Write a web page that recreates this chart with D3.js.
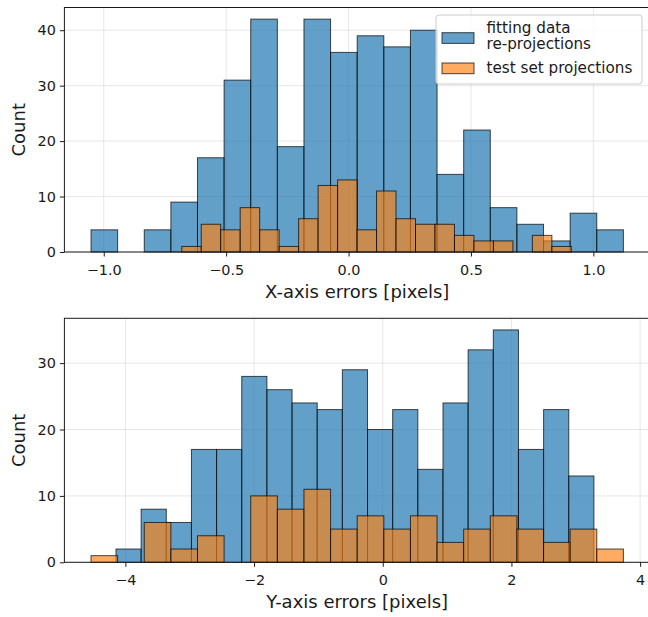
<!DOCTYPE html>
<html><head><meta charset="utf-8">
<script src="https://cdn.jsdelivr.net/npm/d3@7"></script>
<style>body{margin:0;background:#fff}svg{display:block}text{font-family:"DejaVu Sans",sans-serif;fill:#1a1a1a}</style>
</head><body>
<svg id="c" width="648" height="617"></svg>
<script>
// ---- data ----
// X-axis errors histogram (fitting data re-projections), 20 equal bins
const xFitRange = [-1.052, 1.1226];
const xFitCounts = [4, 0, 4, 9, 17, 31, 42, 19, 42, 36, 39, 37, 40, 14, 22, 8, 5, 2, 7, 4];
// X-axis errors histogram (test set projections), 20 equal bins
const xTestRange = [-0.6814, 0.910];
const xTestCounts = [1, 5, 4, 8, 4, 1, 6, 12, 13, 4, 11, 6, 5, 5, 3, 2, 2, 0, 3, 1];
// Y-axis errors histogram (fitting data), 19 equal bins
const yFitRange = [-4.146, 3.282];
const yFitCounts = [2, 8, 6, 17, 17, 28, 26, 24, 23, 29, 20, 23, 14, 24, 32, 35, 17, 23, 13];
// Y-axis errors histogram (test set), 20 equal bins
const yTestRange = [-4.534, 3.740];
const yTestCounts = [1, 0, 6, 2, 4, 0, 10, 8, 11, 5, 7, 5, 7, 3, 5, 7, 5, 3, 5, 2];

const xTicksTop = [-1.0, -0.5, 0.0, 0.5, 1.0];
const yTicksTop = [0, 10, 20, 30, 40];
const xTicksBottom = [-4, -2, 0, 2, 4];
const yTicksBottom = [0, 10, 20, 30];

const seriesNames = ["fitting data\nre-projections", "test set projections"];
const seriesColors = ["#1f77b4", "#ff7f0e"];

// ---- drawing ----
const svg = d3.select("#c");

function bins(range, counts) {
  const n = counts.length, w = (range[1] - range[0]) / n;
  return counts.map((c, i) => ({x0: range[0] + i * w, x1: range[0] + (i + 1) * w, c}));
}

function panel(opt) {
  const allMin = Math.min(opt.fitRange[0], opt.testRange[0]);
  const allMax = Math.max(opt.fitRange[1], opt.testRange[1]);
  const pad = (allMax - allMin) * 0.05;
  const yMax = Math.max(d3.max(opt.fitCounts), d3.max(opt.testCounts)) * 1.05;
  const x = d3.scaleLinear().domain([allMin - pad, allMax + pad]).range([opt.left, opt.right]);
  const y = d3.scaleLinear().domain([0, yMax]).range([opt.bottom, opt.top]);
  const g = svg.append("g");

  // grid
  g.append("g").selectAll("line").data(opt.xTicks).join("line")
    .attr("x1", d => x(d)).attr("x2", d => x(d)).attr("y1", opt.top).attr("y2", opt.bottom)
    .attr("stroke", "#b0b0b0").attr("stroke-opacity", 0.3).attr("stroke-width", 1);
  g.append("g").selectAll("line").data(opt.yTicks).join("line")
    .attr("y1", d => y(d)).attr("y2", d => y(d)).attr("x1", opt.left).attr("x2", opt.right)
    .attr("stroke", "#b0b0b0").attr("stroke-opacity", 0.3).attr("stroke-width", 1);

  // bars
  const series = [[opt.fitRange, opt.fitCounts, 0, 0.7], [opt.testRange, opt.testCounts, 1, 0.65]];
  series.forEach(([r, c, k, a]) => {
    g.append("g").selectAll("rect").data(bins(r, c).filter(d => d.c > 0)).join("rect")
      .attr("x", d => x(d.x0)).attr("width", d => x(d.x1) - x(d.x0))
      .attr("y", d => y(d.c)).attr("height", d => y(0) - y(d.c))
      .attr("fill", seriesColors[k]).attr("fill-opacity", a)
      .attr("stroke", "#000").attr("stroke-opacity", 0.7).attr("stroke-width", 1);
  });

  // axes
  const ax = g.append("g").attr("transform", `translate(0,${opt.bottom})`)
    .call(d3.axisBottom(x).tickValues(opt.xTicks).tickFormat(opt.xFmt).tickSize(4.5).tickPadding(4));
  const ay = g.append("g").attr("transform", `translate(${opt.left},0)`)
    .call(d3.axisLeft(y).tickValues(opt.yTicks).tickFormat(d3.format("d")).tickSize(4.5).tickPadding(4));
  [ax, ay].forEach(a => {
    a.select(".domain").remove();
    a.selectAll("text").attr("font-size", 14.4).attr("fill", "#1a1a1a").attr("font-family", '"DejaVu Sans",sans-serif');
    a.selectAll("line").attr("stroke", "#1a1a1a");
  });
  ax.selectAll("text").attr("dy", null).attr("y", 23).attr("dominant-baseline", null);
  // frame
  g.append("rect").attr("x", opt.left).attr("y", opt.top)
    .attr("width", opt.right - opt.left).attr("height", opt.bottom - opt.top)
    .attr("fill", "none").attr("stroke", "#1a1a1a").attr("stroke-width", 1);

  g.append("text").attr("x", (opt.left + opt.right) / 2).attr("y", opt.bottom + 46)
    .attr("text-anchor", "middle").attr("font-size", 18).text(opt.xLabel);
  g.append("text").attr("transform", `translate(25,${(opt.top + opt.bottom) / 2}) rotate(-90)`)
    .attr("text-anchor", "middle").attr("font-size", 18).text("Count");
  return {x, y};
}

const minusFmt = f => d => d3.format(f)(d).replace("-", "\u2212");

panel({left: 64.4, right: 650, top: 7.5, bottom: 252,
  fitRange: xFitRange, fitCounts: xFitCounts, testRange: xTestRange, testCounts: xTestCounts,
  xTicks: xTicksTop, yTicks: yTicksTop, xFmt: minusFmt(".1f"), xLabel: "X-axis errors [pixels]"});
panel({left: 64.4, right: 650, top: 318.3, bottom: 562.3,
  fitRange: yFitRange, fitCounts: yFitCounts, testRange: yTestRange, testCounts: yTestCounts,
  xTicks: xTicksBottom, yTicks: yTicksBottom, xFmt: minusFmt("d"), xLabel: "Y-axis errors [pixels]"});

// legend
const lg = svg.append("g");
lg.append("rect").attr("x", 436).attr("y", 15).attr("width", 206).attr("height", 69).attr("rx", 3)
  .attr("fill", "#fff").attr("fill-opacity", 0.8).attr("stroke", "#ccc").attr("stroke-width", 1);
const rows = [{k: 0, py: 32.7, lines: seriesNames[0].split("\n"), ty: [32.6, 49.4]},
              {k: 1, py: 63, lines: [seriesNames[1]], ty: [72.5]}];
rows.forEach(r => {
  lg.append("rect").attr("x", 442).attr("y", r.py).attr("width", 32).attr("height", 10.7)
    .attr("fill", seriesColors[r.k]).attr("fill-opacity", r.k ? 0.65 : 0.7)
    .attr("stroke", "#000").attr("stroke-opacity", 0.7).attr("stroke-width", 1);
  r.lines.forEach((t, i) => lg.append("text").attr("x", 486.5).attr("y", r.ty[i])
    .attr("font-size", 15.2).text(t));
});
</script>
</body></html>
